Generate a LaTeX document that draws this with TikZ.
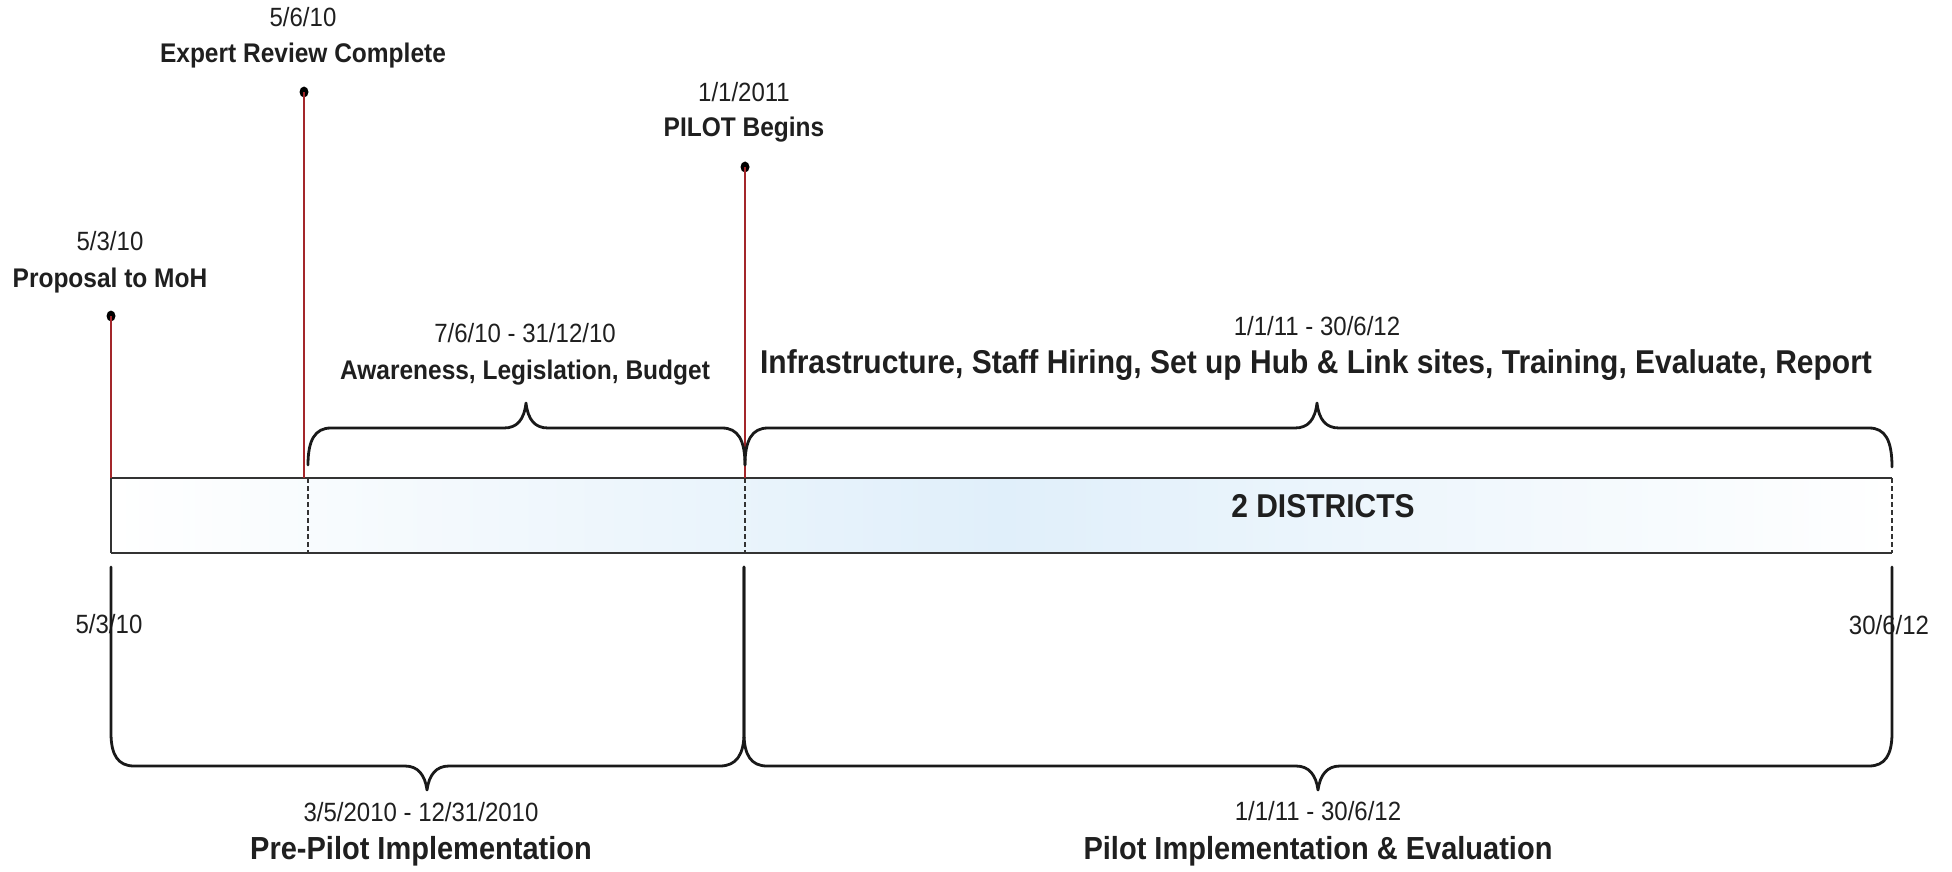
\documentclass[tikz,border=0pt]{standalone}
\usepackage{graphicx}
\usepackage{fontspec}
\setmainfont{Liberation Sans}
\definecolor{redline}{HTML}{A3262A}
\definecolor{barblue}{HTML}{E0EFFA}
\definecolor{bardark}{HTML}{333333}
\newcommand\tallt[1]{\scalebox{1}[1.1]{#1}}
\tikzset{
  lbl/.style={inner sep=0pt, text height=0.716em, text depth=0pt, anchor=center, text=black!88},
  small/.style={lbl, font=\fontsize{24}{28}\selectfont},
  smallb/.style={lbl, font=\fontsize{24.5}{28}\selectfont\bfseries},
  big/.style={lbl, font=\fontsize{30}{34}\selectfont\bfseries},
  bigb/.style={lbl, font=\fontsize{29}{33}\selectfont\bfseries},
  brace/.style={draw=black!90, line width=2.8pt, line cap=round, line join=round},
  marker/.style={draw=redline, line width=1.4pt},
  dotmark/.style={ellipse, fill=black, inner sep=0pt, minimum width=9pt, minimum height=11pt},
  barline/.style={draw=bardark, line width=2pt},
  bardash/.style={draw=bardark, line width=1.6pt, dash pattern=on 5pt off 3pt},
}
\usetikzlibrary{shapes.geometric}
\begin{document}
\begin{tikzpicture}[x=1pt, y=-1pt]
\useasboundingbox (0,0) rectangle (1952,872);
% bar
\fill[left color=white, right color=white, middle color=barblue] (111,478) rectangle (1892,553);
\coordinate (bTL) at (111,478);
\coordinate (bTR) at (1892,478);
\coordinate (bBL) at (111,553);
\coordinate (bBR) at (1892,553);
\draw[barline] (bTL) -- (bTR);
\draw[barline] (bBL) -- (bBR);
\draw[barline] (bTL) -- (bBL);
\coordinate (e1t) at (308,478); \coordinate (e1b) at (308,553);
\coordinate (e2t) at (745,478); \coordinate (e2b) at (745,553);
\draw[bardash] (e1t) -- (e1b);
\draw[bardash] (e2t) -- (e2b);
\draw[bardash] (bTR) -- (bBR);
\node[big] (dist) at (1323,514) {\tallt{2 DISTRICTS}};

% markers
\node[dotmark] (p1) at (111,316) {};
\node[dotmark] (p2) at (304,92) {};
\node[dotmark] (p3) at (745,167) {};
\coordinate (m1) at (111,478);
\coordinate (m2) at (304,478);
\coordinate (m3) at (745,478);
\draw[marker] (p1.center) -- (m1);
\draw[marker] (p2.center) -- (m2);
\draw[marker] (p3.center) -- (m3);

% top labels
\node[small] (d2) at (303,23) {\tallt{5/6/10}};
\node[smallb] (t2) at (303,59) {\tallt{Expert Review Complete}};
\node[small] (d3) at (744,98) {\tallt{1/1/2011}};
\node[smallb] (t3) at (744,133) {\tallt{PILOT Begins}};
\node[small] (d1) at (110,247) {\tallt{5/3/10}};
\node[smallb] (t1) at (110,284) {\tallt{Proposal to MoH}};
\node[small] (d4) at (525,339) {\tallt{7/6/10 - 31/12/10}};
\node[smallb] (t4) at (525,376) {\tallt{Awareness, Legislation, Budget}};
\node[small] (d5) at (1317,332) {\tallt{1/1/11 - 30/6/12}};
\node[big] (t5) at (1316,370) {\tallt{Infrastructure, Staff Hiring, Set up Hub \& Link sites, Training, Evaluate, Report}};

% upper braces
\coordinate (ua) at (308,465);
\coordinate (um) at (745,465);
\coordinate (ub) at (1892,467);
\draw[brace] (ua) .. controls (308,440) and (315,428) .. (331,428) -- (504,428)
  .. controls (517,428) and (524,420) .. (526,403)
  .. controls (528,420) and (535,428) .. (548,428) -- (722,428)
  .. controls (738,428) and (745,440) .. (um);
\draw[brace] (um) .. controls (745,440) and (752,428) .. (768,428) -- (1295,428)
  .. controls (1308,428) and (1315,420) .. (1317,403)
  .. controls (1319,420) and (1326,428) .. (1339,428) -- (1869,428)
  .. controls (1885,428) and (1892,440) .. (ub);

% side dates
\node[small] (s1) at (109,630) {\tallt{5/3/10}};
\node[small] (s2) at (1889,631) {\tallt{30/6/12}};

% lower braces
\coordinate (la) at (111,567);
\coordinate (lm) at (744,567);
\coordinate (lb) at (1892,567);
\draw[brace] (la) -- (111,733) .. controls (111,755) and (118,766) .. (134,766) -- (405,766)
  .. controls (418,766) and (425,775) .. (427,790)
  .. controls (429,775) and (436,766) .. (449,766) -- (720,766)
  .. controls (736,766) and (744,755) .. (744,733) -- (lm);
\draw[brace] (lm) -- (744,733) .. controls (744,755) and (751,766) .. (767,766) -- (1296,766)
  .. controls (1309,766) and (1316,775) .. (1318,790)
  .. controls (1320,775) and (1327,766) .. (1340,766) -- (1869,766)
  .. controls (1885,766) and (1892,755) .. (1892,733) -- (lb);

% bottom labels
\node[small] (d6) at (421,818) {\tallt{3/5/2010 - 12/31/2010}};
\node[bigb] (t6) at (421,856) {\tallt{Pre-Pilot Implementation}};
\node[small] (d7) at (1318,817) {\tallt{1/1/11 - 30/6/12}};
\node[bigb] (t7) at (1318,856) {\tallt{Pilot Implementation \& Evaluation}};
\end{tikzpicture}
\end{document}
